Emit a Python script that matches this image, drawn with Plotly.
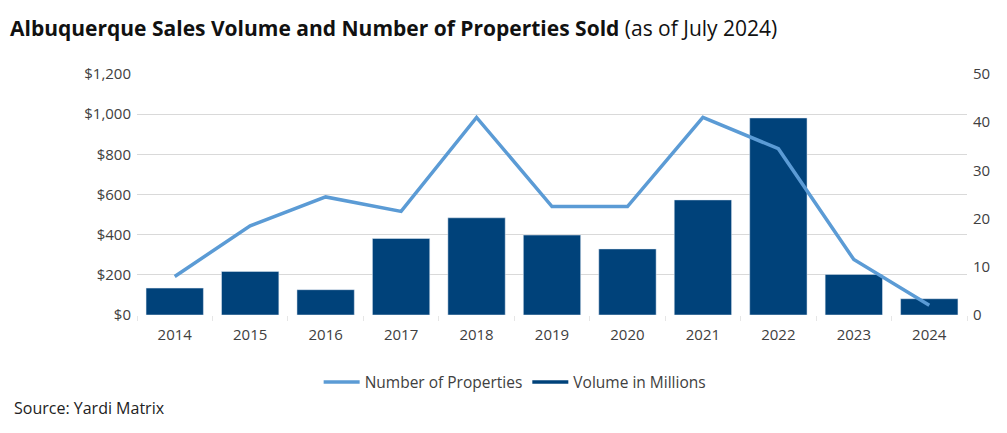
import plotly.graph_objects as go

years = ["2014", "2015", "2016", "2017", "2018", "2019", "2020", "2021", "2022", "2023", "2024"]
volume_millions = [134, 217, 126, 381, 484, 398, 329, 573, 981, 202, 81]
num_properties = [8, 18.5, 24.5, 21.5, 41, 22.5, 22.5, 41, 34.5, 11.5, 2]
left_ticks = [0, 200, 400, 600, 800, 1000, 1200]
left_labels = ["$0", "$200", "$400", "$600", "$800", "$1,000", "$1,200"]
right_ticks = [0, 10, 20, 30, 40, 50]

BAR = "#00427A"
LINE = "#5B9BD5"
FONT = "'Open Sans', 'Noto Sans', sans-serif"

fig = go.Figure()
fig.add_trace(go.Bar(x=years, y=volume_millions, marker_color=BAR, name="Volume in Millions",
                     showlegend=False, yaxis="y"))
fig.add_trace(go.Scatter(x=years, y=num_properties, mode="lines", line=dict(color=LINE, width=3.5),
                         name="Number of Properties", yaxis="y2"))
fig.add_trace(go.Scatter(x=[None], y=[None], mode="lines", line=dict(color=BAR, width=3.5),
                         name="Volume in Millions", yaxis="y2"))

fig.update_layout(
    width=1007, height=433,
    margin=dict(l=137, r=40, t=74, b=118),
    paper_bgcolor="white", plot_bgcolor="white",
    font=dict(family=FONT, size=14, color="#404040"),
    bargap=0.24,
    xaxis=dict(type="category", tickfont=dict(size=15, color="#404040"), showgrid=False,
               ticks="outside", tickson="boundaries", ticklen=5, tickcolor="#e6e6e6",
               showline=False, zeroline=False, ticklabelstandoff=9),
    yaxis=dict(range=[0, 1200], tickvals=left_ticks, ticktext=left_labels, showgrid=True,
               gridcolor="#d9d9d9", gridwidth=1, zeroline=False, showline=False,
               tickfont=dict(size=15, color="#404040"), ticks="", ticklabelstandoff=5),
    yaxis2=dict(range=[0, 50], tickvals=right_ticks, overlaying="y", side="right",
                showgrid=False, zeroline=False, showline=False,
                tickfont=dict(size=15, color="#404040"), ticklabelstandoff=5),
    legend=dict(orientation="h", x=0.455, xanchor="center", y=-0.28, yanchor="middle",
                font=dict(size=15.5, color="#404040"), itemwidth=36, traceorder="normal"),
    annotations=[
        dict(text="<b>Albuquerque Sales Volume and Number of Properties Sold</b> "
                  "<span style='font-weight:normal;font-size:21px'>(as of July 2024)</span>",
             xref="paper", yref="paper", x=-129/830, y=1 + 46/241, xanchor="left", yanchor="middle",
             showarrow=False, font=dict(size=21, color="#111111", family=FONT)),
        dict(text="Source: Yardi Matrix", xref="paper", yref="paper",
             x=-125/830, y=-93/241, xanchor="left", yanchor="middle",
             showarrow=False, font=dict(size=16, color="#222222", family=FONT)),
    ],
)

fig.write_html("out.html")
